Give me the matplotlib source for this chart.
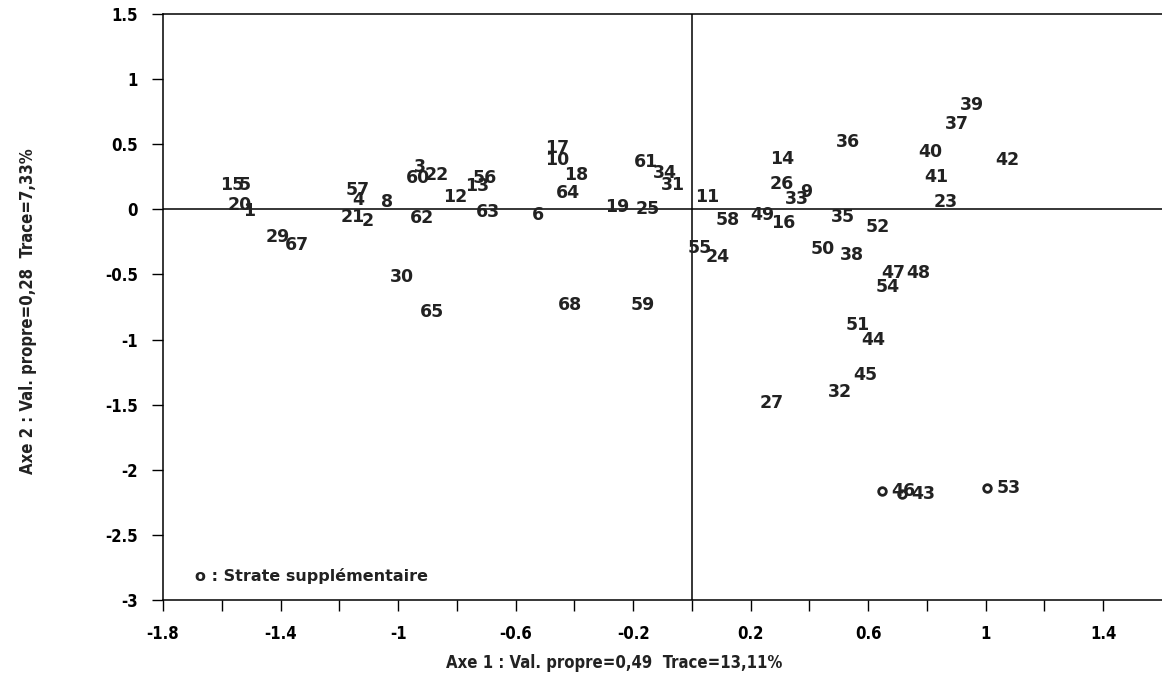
import numpy as np
import matplotlib
matplotlib.use("Agg")
import matplotlib.pyplot as plt

# active strata (label positions on axes 1 and 2)
labels = ["15", "5", "20", "1", "29", "67", "57", "4", "21", "2", "8",
          "3", "60", "22", "62", "12", "56", "13", "63", "6", "30", "65",
          "68", "59", "17", "10", "18", "64", "19", "25", "61", "34", "31",
          "11", "55", "24", "58", "49", "16", "14", "26", "9", "33", "36",
          "35", "52", "50", "38", "47", "48", "54", "51", "44", "45", "32",
          "27", "39", "37", "40", "42", "41", "23"]
axe1 = [-1.566, -1.522, -1.539, -1.508, -1.409, -1.345, -1.137, -1.137,
        -1.154, -1.103, -1.038, -0.926, -0.933, -0.868, -0.919, -0.807,
        -0.705, -0.732, -0.694, -0.524, -0.987, -0.885, -0.415, -0.167,
        -0.460, -0.460, -0.395, -0.422, -0.255, -0.150, -0.157, -0.092,
        -0.065, 0.051, 0.027, 0.089, 0.123, 0.238, 0.310, 0.306, 0.306,
        0.388, 0.357, 0.531, 0.514, 0.633, 0.446, 0.545, 0.684, 0.769,
        0.667, 0.565, 0.616, 0.589, 0.504, 0.272, 0.953, 0.902, 0.810,
        1.072, 0.831, 0.865]
axe2 = [0.187, 0.187, 0.033, -0.013, -0.213, -0.275, 0.148, 0.071,
        -0.059, -0.090, 0.056, 0.325, 0.240, 0.263, -0.067, 0.094,
        0.240, 0.179, -0.021, -0.044, -0.520, -0.789, -0.735, -0.735,
        0.470, 0.379, 0.263, 0.125, 0.018, 0.002, 0.363, 0.279,
        0.187, 0.094, -0.297, -0.367, -0.083, -0.044, -0.105, 0.386,
        0.194, 0.133, 0.079, 0.517, -0.059, -0.136, -0.305, -0.351,
        -0.490, -0.490, -0.597, -0.889, -1.005, -1.274, -1.404, -1.488,
        0.801, 0.655, 0.440, 0.379, 0.248, 0.056]

# supplementary strata
sup_labels = ["46", "43", "53"]
sup_axe1 = [0.647, 0.715, 1.004]
sup_axe2 = [-2.163, -2.186, -2.141]

xticks = [-1.8, -1.6, -1.4, -1.2, -1.0, -0.8, -0.6, -0.4, -0.2, 0.0,
          0.2, 0.4, 0.6, 0.8, 1.0, 1.2, 1.4]
xticklabels = ["-1.8", "", "-1.4", "", "-1", "", "-0.6", "", "-0.2", "",
               "0.2", "", "0.6", "", "1", "", "1.4"]
yticks = [1.5, 1, 0.5, 0, -0.5, -1, -1.5, -2, -2.5, -3]
yticklabels = ["1.5", "1", "0.5", "0", "-0.5", "-1", "-1.5", "-2", "-2.5", "-3"]

ink = "#222222"
narrow = dict(family="DejaVu Sans", fontstretch="condensed", fontweight="bold")

fig = plt.figure(figsize=(11.62, 6.86), dpi=100)
ax = fig.add_axes([0.1403, 0.1254, 0.8597, 0.8542])
ax.set_xlim(-1.8, 1.6)
ax.set_ylim(-3, 1.5)

ax.axhline(0, color="black", lw=1.1)
ax.axvline(0, color="black", lw=1.1)

for lab, x, y in zip(labels, axe1, axe2):
    ax.text(x, y, lab, ha="center", va="center", fontsize=12.5,
            fontweight="bold", color=ink, family="DejaVu Sans")

ax.plot(sup_axe1, sup_axe2, "o", ms=5.5, mfc="white", mec=ink, mew=2)
for lab, x, y in zip(sup_labels, sup_axe1, sup_axe2):
    ax.annotate(lab, (x, y), xytext=(7, 0), textcoords="offset points",
                ha="left", va="center", fontsize=12.5, fontweight="bold",
                color=ink, family="DejaVu Sans")

ax.text(0.032, 0.041, "o : Strate supplémentaire", transform=ax.transAxes,
        ha="left", va="center", fontsize=11.5, fontweight="bold",
        color=ink, family="DejaVu Sans")

ax.set_xticks(xticks)
ax.set_xticklabels(xticklabels, fontsize=12, **narrow)
ax.set_yticks(yticks)
ax.set_yticklabels(yticklabels, fontsize=12, **narrow)
ax.tick_params(direction="out", length=8, width=1, pad=10)

for s in ["left", "top", "bottom"]:
    ax.spines[s].set_linewidth(1.1)
ax.spines["right"].set_visible(False)

fig.text(614 / 1162, 1 - 663 / 686, "Axe 1 : Val. propre=0,49  Trace=13,11%",
         ha="center", va="center", fontsize=12, color=ink, **narrow)
fig.text(28 / 1162, 1 - 311 / 686, "Axe 2 : Val. propre=0,28  Trace=7,33%",
         ha="center", va="center", rotation=90, fontsize=12, color=ink,
         **narrow)

fig.savefig("out.png", dpi=100)
